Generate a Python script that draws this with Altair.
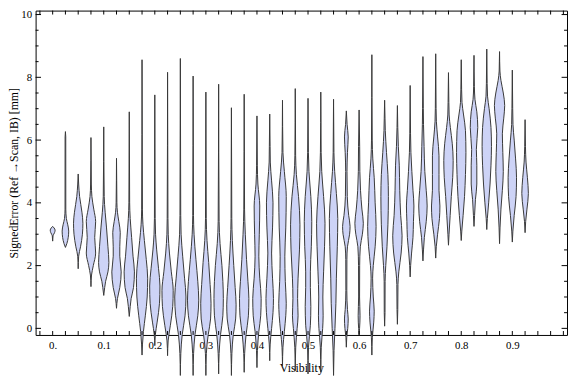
import altair as alt
import pandas as pd

# Violin centres (Visibility bins)
centers = [0.0, 0.025, 0.05, 0.075, 0.1, 0.125, 0.15, 0.175, 0.2, 0.225,
           0.25, 0.275, 0.3, 0.325, 0.35, 0.375, 0.4, 0.425, 0.45, 0.475,
           0.5, 0.525, 0.55, 0.575, 0.6, 0.625, 0.65, 0.675, 0.7, 0.725,
           0.75, 0.775, 0.8, 0.825, 0.85, 0.875, 0.9, 0.925]

# Density profiles: [SignedError, density] knots (density in arbitrary units)
profiles = [
    [[2.78, 0], [2.95, 0.4], [3.05, 2], [3.13, 2.6], [3.2, 1.5], [3.25, 0]],
    [[2.58, 0], [2.7, 1.5], [2.9, 3], [3.1, 3.5], [3.3, 2.5], [3.5, 1], [3.8, 0.4], [6.1, 0.35], [6.27, 0]],
    [[1.9, 0], [2.3, 0.5], [2.6, 2.5], [3.0, 4.5], [3.35, 5], [3.7, 4], [4.2, 1.5], [4.6, 0.5], [4.92, 0]],
    [[1.33, 0], [1.7, 0.6], [2.0, 2.5], [2.4, 5], [2.9, 4], [3.4, 5], [3.8, 3], [4.2, 1], [4.6, 0.4], [6.08, 0]],
    [[1.05, 0], [1.3, 1], [1.5, 2], [1.8, 4.5], [2.1, 5.5], [2.6, 4.5], [3.2, 3], [3.7, 1.5], [4.2, 0.5], [6.42, 0]],
    [[0.64, 0], [0.95, 1], [1.3, 3.5], [1.8, 5], [2.3, 3.5], [2.6, 3.5], [3.05, 4], [3.4, 2.5], [3.7, 1], [4.0, 0.4], [5.42, 0]],
    [[0.38, 0], [0.7, 1], [0.95, 2], [1.3, 4.5], [1.8, 5.5], [2.3, 4], [2.9, 2.5], [3.5, 1], [4.0, 0.4], [6.9, 0]],
    [[-0.85, 0], [-0.5, 0.5], [-0.1, 1.5], [0.4, 3.5], [1.0, 5.5], [1.6, 6], [2.2, 4.5], [2.8, 2.5], [3.3, 1], [3.8, 0.4], [8.56, 0]],
    [[-0.55, 0], [-0.2, 0.6], [0.2, 2.5], [0.8, 5], [1.35, 5.5], [1.9, 4], [2.5, 2], [3.0, 0.8], [3.5, 0.4], [7.44, 0]],
    [[-0.87, 0], [-0.4, 0.6], [0.1, 3], [0.7, 5.5], [1.2, 6], [1.8, 4], [2.4, 2], [3.0, 0.7], [3.5, 0.4], [8.16, 0]],
    [[-1.5, 0], [-0.8, 0.5], [-0.2, 2], [0.4, 5], [1.0, 6], [1.6, 4.5], [2.3, 2.5], [3.0, 0.8], [3.6, 0.4], [8.6, 0]],
    [[-1.5, 0], [-0.8, 0.5], [-0.2, 2], [0.4, 5], [0.9, 6], [1.5, 5], [2.2, 3], [3.0, 1], [3.6, 0.4], [8.04, 0]],
    [[-1.5, 0], [-0.8, 0.5], [-0.2, 2.5], [0.3, 5], [0.8, 5.5], [1.4, 4.5], [2.1, 3], [2.8, 1.2], [3.5, 0.4], [7.53, 0]],
    [[-1.45, 0], [-0.8, 0.5], [-0.2, 2], [0.4, 4.5], [0.95, 5], [1.5, 4.5], [2.0, 3.5], [2.7, 1.5], [3.4, 0.5], [7.78, 0]],
    [[-1.5, 0], [-0.8, 0.5], [-0.2, 2], [0.3, 4.5], [0.75, 5], [1.3, 4], [2.0, 2.5], [2.8, 1], [3.5, 0.4], [7.03, 0]],
    [[-1.4, 0], [-0.8, 0.5], [-0.2, 2], [0.4, 4.5], [0.95, 5], [1.5, 4], [2.2, 2.5], [3.0, 1.2], [3.8, 0.4], [7.46, 0]],
    [[-1.25, 0], [-0.7, 0.5], [-0.1, 2], [0.4, 4], [0.95, 4.5], [1.6, 3], [2.3, 2], [3.0, 2.5], [3.9, 3], [4.6, 1], [5.2, 0.4], [6.77, 0]],
    [[-1.03, 0], [-0.5, 0.5], [0.0, 2], [0.5, 3.5], [0.95, 4], [1.6, 3], [2.4, 2], [3.2, 3], [4.0, 3.5], [4.7, 2], [5.3, 0.6], [5.8, 0.4], [6.83, 0]],
    [[-1.2, 0], [-0.6, 0.5], [-0.1, 2], [0.4, 3.5], [0.8, 4], [1.5, 3], [2.3, 2.5], [3.2, 3.5], [4.2, 4], [5.0, 2], [5.6, 0.5], [7.27, 0]],
    [[-1.35, 0], [-0.6, 0.5], [0.0, 2], [0.4, 3], [0.95, 2.5], [1.6, 3], [2.5, 4.5], [3.3, 5], [4.2, 3.5], [4.9, 1.2], [5.5, 0.4], [7.64, 0]],
    [[-1.45, 0], [-0.6, 0.5], [0.1, 2.5], [0.7, 3], [1.3, 2.5], [1.8, 2.5], [2.6, 3.5], [3.4, 4], [4.2, 3], [5.0, 1], [5.6, 0.4], [7.33, 0]],
    [[-1.4, 0], [-0.6, 0.5], [0.0, 2], [0.4, 2.5], [1.0, 2.2], [1.8, 3], [2.6, 4], [3.35, 4.5], [4.2, 3], [5.0, 1], [5.6, 0.4], [7.53, 0]],
    [[-1.5, 0], [-0.7, 0.5], [0.0, 1.5], [0.8, 2.5], [1.6, 3], [2.6, 4], [3.5, 4.5], [4.3, 3], [5.0, 1.2], [5.6, 0.4], [7.3, 0]],
    [[-0.6, 0], [-0.3, 0.4], [0.0, 1.5], [0.3, 2], [0.6, 1.2], [1.2, 0.5], [2.2, 0.6], [2.6, 1.2], [3.0, 3.5], [3.25, 4], [3.6, 2.5], [4.2, 1], [5.0, 0.7], [5.6, 1.2], [6.1, 2], [6.5, 0.8], [6.93, 0]],
    [[-0.2, 0], [0.0, 0.5], [0.4, 1], [1.0, 0.5], [2.0, 0.6], [2.6, 1.3], [3.0, 3.5], [3.35, 4.5], [3.8, 3], [4.4, 1.5], [5.0, 0.8], [5.8, 0.6], [6.96, 0]],
    [[-0.85, 0], [-0.3, 0.5], [0.2, 2], [0.55, 2.5], [1.0, 1.5], [1.6, 0.8], [2.0, 1.5], [2.6, 3.5], [3.25, 4.5], [4.0, 3.5], [4.8, 2.5], [5.4, 1], [6.0, 0.4], [8.72, 0]],
    [[0.07, 0], [0.5, 0.4], [1.5, 0.5], [2.0, 1.2], [2.6, 2.5], [3.3, 3.5], [4.2, 4], [4.9, 3.5], [5.6, 2], [6.3, 0.7], [6.7, 0.4], [7.27, 0]],
    [[0.13, 0], [0.6, 0.4], [1.4, 0.6], [1.8, 1.5], [2.4, 4], [2.95, 5], [3.6, 3.5], [4.4, 2.5], [5.2, 2], [5.8, 1], [6.4, 0.4], [7.1, 0]],
    [[1.64, 0], [2.0, 0.5], [2.4, 1.5], [2.9, 3], [3.4, 3.5], [3.9, 4], [4.4, 3], [5.0, 1.8], [5.6, 0.8], [6.2, 0.4], [7.74, 0]],
    [[2.15, 0], [2.5, 0.6], [2.9, 1.5], [3.4, 3.5], [3.9, 4.5], [4.4, 3.5], [5.0, 2], [5.8, 1.2], [6.5, 0.6], [7.0, 0.4], [8.66, 0]],
    [[2.24, 0], [2.6, 0.6], [3.0, 2], [3.5, 4], [3.9, 4.5], [4.4, 3.5], [4.9, 3.5], [5.5, 3.5], [6.1, 2], [6.6, 0.7], [7.0, 0.4], [8.75, 0]],
    [[2.65, 0], [3.0, 0.6], [3.6, 1.8], [4.2, 3], [4.8, 4.5], [5.35, 5], [5.9, 4], [6.4, 2], [6.8, 0.7], [7.2, 0.4], [8.15, 0]],
    [[2.8, 0], [3.1, 0.6], [3.6, 2], [4.2, 3.5], [4.9, 4.5], [5.6, 5], [6.3, 4.5], [6.8, 2.5], [7.2, 0.8], [7.6, 0.4], [8.56, 0]],
    [[3.25, 0], [3.6, 0.6], [4.1, 1.5], [4.6, 3], [5.2, 3], [5.7, 2.5], [6.4, 4], [6.9, 3], [7.3, 1], [7.7, 0.4], [8.7, 0]],
    [[3.15, 0], [3.5, 0.6], [4.0, 2], [4.6, 3.5], [5.2, 4.5], [5.8, 5], [6.4, 4.5], [7.0, 2.5], [7.4, 0.8], [7.8, 0.4], [8.9, 0]],
    [[2.7, 0], [3.2, 0.5], [3.8, 1.5], [4.4, 3], [5.0, 4], [5.6, 3.5], [6.2, 3], [6.7, 4.5], [7.1, 5.5], [7.5, 4], [7.9, 1.5], [8.2, 0.4], [8.82, 0]],
    [[2.75, 0], [3.1, 0.6], [3.6, 2], [4.2, 4], [4.8, 4.5], [5.4, 3.5], [6.0, 2], [6.5, 0.7], [7.0, 0.4], [8.23, 0]],
    [[3.05, 0], [3.4, 0.6], [3.8, 2], [4.3, 3.5], [4.8, 2.5], [5.3, 1], [5.8, 0.4], [6.65, 0]],
]

# Axis ticks / labels
x_label_values = [0.0, 0.1, 0.2, 0.3, 0.4, 0.5, 0.6, 0.7, 0.8, 0.9]
x_tick_values = [-0.025, 0.0, 0.025, 0.05, 0.075, 0.1, 0.125, 0.15, 0.175, 0.2, 0.225,
                 0.25, 0.275, 0.3, 0.325, 0.35, 0.375, 0.4, 0.425, 0.45, 0.475,
                 0.5, 0.525, 0.55, 0.575, 0.6, 0.625, 0.65, 0.675, 0.7, 0.725,
                 0.75, 0.775, 0.8, 0.825, 0.85, 0.875, 0.9, 0.925, 0.95, 0.975, 1.0]
y_major_values = [0, 2, 4, 6, 8, 10]
y_minor_values = [0.5, 1, 1.5, 2.5, 3, 3.5, 4.5, 5, 5.5, 6.5, 7, 7.5, 8.5, 9, 9.5]

X_DOMAIN = [-0.0334, 1.0071]
Y_DOMAIN = [-0.21, 10.126]
W = 539
H = 329
WIDTH_SCALE = 0.95 / 518.0  # density unit -> x units (half width)

rows = []
for i, (c, prof) in enumerate(zip(centers, profiles)):
    for y, d in prof:
        rows.append({"id": i, "center": c, "y": y, "d": d})
df = pd.DataFrame(rows)
df["lo"] = df["center"] - df["d"] * WIDTH_SCALE
df["hi"] = df["center"] + df["d"] * WIDTH_SCALE

FONT = "Liberation Serif"
xscale = alt.Scale(domain=X_DOMAIN, nice=False, zero=False)
yscale = alt.Scale(domain=Y_DOMAIN, nice=False, zero=False)

y_axis = alt.Axis(
    values=y_major_values, format="d", ticks=False, tickSize=0, domain=False, grid=False,
    labelFont=FONT, labelFontSize=11, labelColor="#000", labelPadding=4,
    title="SignedError (Ref \u2192Scan, IB) [mm]", titleFont=FONT, titleFontSize=12,
    titleFontWeight="normal", titleColor="#000", titleAngle=270,
    titleAlign="center", titleBaseline="middle", titleX=-22, titleY=H / 2)
x_axis = alt.Axis(
    values=x_label_values,
    labelExpr="datum.value == 0 ? '0.' : format(datum.value, '.1f')",
    ticks=False, tickSize=0, domain=False, grid=False,
    labelFont=FONT, labelFontSize=11, labelColor="#000", labelPadding=5,
    title="Visibility", titleFont=FONT, titleFontSize=12, titleFontWeight="normal",
    titleColor="#000", titleX=W / 2, titleY=33, titleBaseline="middle")

violins = alt.Chart(df).mark_area(
    orient="horizontal", interpolate="monotone",
    fill="#cdd3f6", fillOpacity=1, stroke="#383838", strokeWidth=1, clip=False
).encode(
    y=alt.Y("y:Q", scale=yscale, axis=y_axis),
    x=alt.X("lo:Q", scale=xscale, axis=x_axis),
    x2="hi:Q",
    detail="id:N",
)

xt = pd.DataFrame({"t": x_tick_values})
ymaj = pd.DataFrame({"t": y_major_values})
ymin = pd.DataFrame({"t": y_minor_values})

def xticks(y0, y1):
    return alt.Chart(xt).mark_rule(color="#000", strokeWidth=1).encode(
        x=alt.X("t:Q", scale=xscale, axis=x_axis), y=alt.value(y0), y2=alt.value(y1))

def yticks(data, x0, x1):
    return alt.Chart(data).mark_rule(color="#000", strokeWidth=1).encode(
        y=alt.Y("t:Q", scale=yscale, axis=y_axis), x=alt.value(x0), x2=alt.value(x1))

chart = alt.layer(
    violins,
    xticks(H, H - 4), xticks(0, 4),
    yticks(ymaj, 0, 5.5), yticks(ymin, 0, 3),
    yticks(ymaj, W, W - 5.5), yticks(ymin, W, W - 3),
).properties(
    width=W, height=H,
    autosize=alt.AutoSizeParams(type="none"),
    padding={"left": 28, "top": 0, "right": 1, "bottom": 40},
).configure_view(stroke="#000", strokeWidth=1)

chart.save("out.html", embed_options={"renderer": "svg", "actions": False})
